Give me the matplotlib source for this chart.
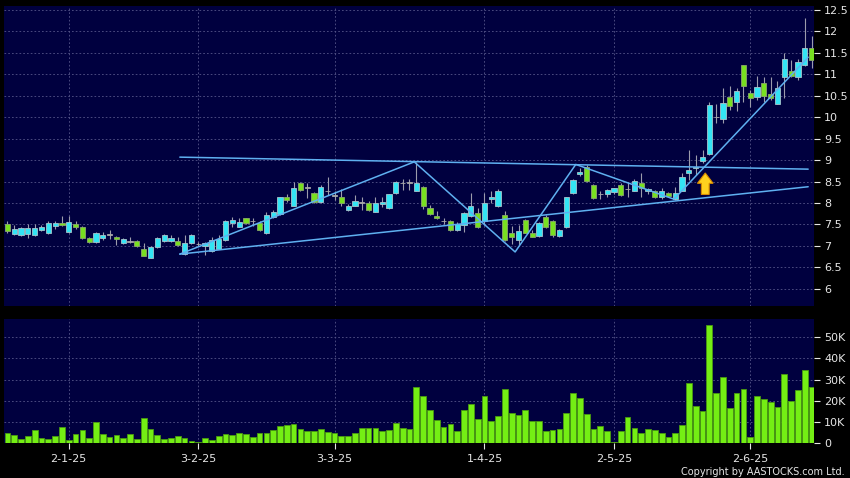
import numpy as np
import matplotlib
matplotlib.use("Agg")
import matplotlib.pyplot as plt
from matplotlib.patches import FancyArrow

# ---------------- data ----------------
opens = [7.51, 7.27, 7.25, 7.27, 7.25, 7.36, 7.30, 7.46, 7.53, 7.32,
         7.52, 7.44, 7.18, 7.09, 7.18, 7.26, 7.21, 7.07, 7.10, 7.11,
         6.93, 6.72, 6.98, 7.11, 7.11, 7.11, 6.81, 7.06, 7.04, 7.01,
         6.89, 6.94, 7.14, 7.53, 7.45, 7.64, 7.57, 7.53, 7.29, 7.68,
         7.74, 8.13, 7.94, 8.46, 8.36, 8.23, 8.03, 8.27, 8.17, 8.13,
         7.84, 7.94, 8.01, 7.99, 7.80, 7.98, 7.89, 8.23, 8.46, 8.47,
         8.29, 8.38, 7.88, 7.70, 7.57, 7.58, 7.37, 7.49, 7.70, 7.76,
         7.57, 8.09, 7.92, 7.71, 7.29, 7.14, 7.60, 7.29, 7.23, 7.68,
         7.57, 7.23, 7.43, 8.23, 8.68, 8.85, 8.42, 8.20, 8.20, 8.26,
         8.43, 8.32, 8.29, 8.47, 8.27, 8.29, 8.13, 8.23, 8.09, 8.29,
         8.69, 8.81, 8.99, 9.14, 10.00, 9.96, 10.48, 10.36, 11.22, 10.57,
         10.48, 10.79, 10.54, 10.32, 10.93, 11.08, 10.93, 11.21, 11.61]
highs = [7.59, 7.49, 7.45, 7.50, 7.50, 7.48, 7.57, 7.57, 7.70, 7.70,
         7.57, 7.47, 7.20, 7.32, 7.32, 7.36, 7.24, 7.18, 7.22, 7.14,
         7.08, 7.00, 7.22, 7.28, 7.25, 7.20, 7.26, 7.28, 7.10, 7.10,
         7.20, 7.25, 7.60, 7.68, 7.66, 7.66, 7.64, 7.57, 7.78, 7.83,
         8.15, 8.21, 8.48, 8.50, 8.46, 8.25, 8.42, 8.61, 8.27, 8.32,
         7.98, 8.19, 8.13, 8.04, 8.13, 8.13, 8.22, 8.52, 8.55, 8.56,
         8.95, 8.40, 7.95, 7.82, 7.64, 7.60, 7.55, 7.78, 8.23, 7.88,
         8.24, 8.27, 8.33, 7.81, 7.46, 7.49, 7.62, 7.36, 7.56, 7.71,
         7.60, 7.39, 8.15, 8.57, 8.81, 8.88, 8.45, 8.27, 8.33, 8.36,
         8.46, 8.48, 8.55, 8.69, 8.36, 8.31, 8.34, 8.25, 8.38, 8.71,
         9.24, 9.13, 9.24, 10.36, 10.30, 10.68, 10.73, 10.67, 11.22, 10.63,
         10.96, 10.93, 10.93, 10.85, 11.49, 11.33, 11.35, 12.31, 11.90]
lows = [7.30, 7.25, 7.24, 7.18, 7.24, 7.34, 7.28, 7.40, 7.46, 7.30,
        7.40, 7.16, 7.07, 7.07, 7.15, 7.16, 7.02, 7.05, 7.08, 6.98,
        6.76, 6.71, 6.96, 7.10, 7.10, 7.00, 6.80, 7.04, 7.00, 6.78,
        6.87, 6.93, 7.12, 7.45, 7.43, 7.50, 7.46, 7.34, 7.27, 7.65,
        7.72, 8.03, 7.92, 8.28, 8.11, 8.00, 8.00, 8.19, 8.06, 7.92,
        7.82, 7.92, 7.84, 7.82, 7.78, 7.90, 7.87, 8.21, 8.30, 8.30,
        8.27, 7.85, 7.72, 7.62, 7.51, 7.34, 7.35, 7.33, 7.68, 7.41,
        7.49, 7.99, 7.90, 7.12, 7.04, 7.02, 7.29, 7.20, 7.21, 7.41,
        7.20, 7.21, 7.41, 8.21, 8.63, 8.50, 8.09, 8.10, 8.15, 8.22,
        8.17, 8.14, 8.27, 8.15, 8.20, 8.12, 8.09, 8.15, 8.06, 8.27,
        8.54, 8.65, 8.93, 9.12, 9.86, 9.87, 10.17, 10.15, 10.36, 10.23,
        10.40, 10.36, 10.40, 10.30, 10.46, 10.94, 10.87, 11.20, 11.14]
closes = [7.34, 7.39, 7.42, 7.42, 7.42, 7.44, 7.53, 7.54, 7.49, 7.56,
          7.44, 7.18, 7.09, 7.30, 7.26, 7.26, 7.16, 7.16, 7.10, 7.00,
          6.77, 6.97, 7.19, 7.25, 7.19, 7.02, 7.08, 7.26, 7.04, 7.08,
          7.15, 7.17, 7.58, 7.60, 7.56, 7.53, 7.57, 7.36, 7.72, 7.79,
          8.13, 8.07, 8.34, 8.30, 8.36, 8.02, 8.37, 8.27, 8.17, 7.99,
          7.94, 8.05, 8.01, 7.84, 8.01, 8.02, 8.20, 8.49, 8.46, 8.47,
          8.46, 7.92, 7.74, 7.65, 7.57, 7.36, 7.51, 7.76, 7.93, 7.43,
          7.99, 8.13, 8.28, 7.15, 7.22, 7.35, 7.31, 7.22, 7.53, 7.43,
          7.26, 7.37, 8.13, 8.54, 8.73, 8.52, 8.11, 8.20, 8.30, 8.34,
          8.19, 8.32, 8.52, 8.34, 8.32, 8.15, 8.27, 8.17, 8.24, 8.61,
          8.77, 8.85, 9.07, 10.29, 10.00, 10.34, 10.26, 10.62, 10.73, 10.46,
          10.71, 10.50, 10.46, 10.67, 11.35, 10.96, 11.28, 11.61, 11.33]
volumes_k = [4.7, 4.1, 2.2, 3.3, 6.3, 2.5, 2.0, 3.6, 7.9, 1.7,
             4.3, 6.3, 2.5, 9.9, 4.3, 2.8, 3.8, 2.5, 4.4, 2.0,
             12.0, 6.6, 3.8, 2.0, 2.7, 3.3, 2.4, 1.1, 0.4, 2.5,
             1.6, 3.3, 4.4, 3.8, 4.9, 4.4, 3.1, 4.9, 4.7, 6.5,
             8.3, 8.7, 9.0, 6.8, 6.0, 6.0, 6.6, 5.2, 5.0, 3.5,
             3.6, 4.7, 7.1, 7.4, 7.2, 6.0, 6.5, 9.6, 7.2, 6.8,
             26.5, 22.2, 15.6, 10.9, 7.7, 9.0, 5.8, 15.6, 18.7, 11.5,
             22.4, 10.4, 12.9, 25.4, 14.3, 13.2, 15.9, 10.6, 10.7, 6.0,
             6.5, 6.6, 14.1, 23.6, 21.4, 13.7, 6.9, 8.2, 6.0, 0.8,
             6.0, 12.6, 7.4, 4.9, 6.8, 6.3, 4.7, 3.1, 5.0, 8.6,
             28.3, 17.6, 15.4, 55.7, 23.7, 31.4, 16.7, 23.7, 25.8, 3.1,
             22.3, 20.9, 19.5, 17.0, 32.5, 19.8, 25.0, 34.6, 26.4]

date_labels = ["2-1-25", "3-2-25", "3-3-25", "1-4-25", "2-5-25", "2-6-25"]
date_index = [9, 28, 48, 70, 89, 109]

price_ticks = [6, 6.5, 7, 7.5, 8, 8.5, 9, 9.5, 10, 10.5, 11, 11.5, 12, 12.5]
vol_ticks = [0, 10, 20, 30, 40, 50]
vol_labels = ["0", "10K", "20K", "30K", "40K", "50K"]

# trend lines drawn on the chart (bar index, price)
resist_x = [25.3, 117.5]
resist_y = [9.07, 8.79]
support_x = [25.3, 117.5]
support_y = [6.81, 8.38]
zig_x = [25.3, 59.7, 74.5, 83.4, 97.8, 117.5]
zig_y = [6.81, 8.96, 6.86, 8.90, 8.09, 11.40]
arrow_x, arrow_base, arrow_tip = 102.4, 8.20, 8.70

# ---------------- style ----------------
BG = "#00003f"
UP = "#33e4f4"
DOWN = "#78e020"
FLAT = "#a8a8a8"
GRID = "#56568a"
TXT = "#e6e6e6"
LINE = "#5fb0f0"

plt.rcParams['font.family'] = ['DejaVu Sans']

fig = plt.figure(figsize=(8.5, 4.78), dpi=100, facecolor="black")
W, H = 850.0, 478.0
ax = fig.add_axes([4 / W, 1 - 306 / H, 810.3 / W, 300.3 / H], facecolor=BG)
axv = fig.add_axes([4 / W, 1 - 443.3 / H, 810.3 / W, 124.3 / H], facecolor=BG)

o = np.array(opens); c = np.array(closes); hi = np.array(highs); lo = np.array(lows)
x = np.arange(len(o))
cols, edges = [], []
for oo, cc in zip(o, c):
    if cc > oo:
        cols.append(UP); edges.append("#a6c4cc")
    elif cc < oo:
        cols.append(DOWN); edges.append("#8aa86a")
    else:
        cols.append(FLAT); edges.append(FLAT)

ax.vlines(x, lo, hi, color="#9c9cac", lw=0.8, zorder=3)
body_h = np.maximum(np.abs(c - o), 0.012)
ax.bar(x, body_h, bottom=np.minimum(o, c), width=0.76, color=cols,
       edgecolor=edges, linewidth=0.6, zorder=4)

# trend lines
for xs, ys in [(resist_x, resist_y), (support_x, support_y), (zig_x, zig_y)]:
    ax.plot(xs, ys, color=LINE, lw=1.1, zorder=5, solid_capstyle="round")

arr = FancyArrow(arrow_x, arrow_base, 0, arrow_tip - arrow_base, width=1.15,
                 head_width=2.3, head_length=0.24, length_includes_head=True,
                 facecolor="#ffd21e", edgecolor="#d88a00", linewidth=0.8, zorder=6)
ax.add_patch(arr)

ax.set_xlim(-0.5, 118.4)
ax.set_ylim(5.60, 12.60)
ax.set_yticks(price_ticks)
ax.set_yticklabels(["%g" % t for t in price_ticks])
ax.set_xticks(date_index)
ax.set_xticklabels([])
ax.yaxis.tick_right()
ax.tick_params(axis="y", colors=TXT, length=4, width=0.8, pad=3, labelsize=8)
ax.tick_params(axis="x", length=0)
ax.grid(True, color=GRID, ls=(0, (2, 2.5)), lw=0.6, zorder=1)

# volume
axv.bar(x, volumes_k, width=0.84, color="#74ee14", edgecolor="#4a9a10",
        linewidth=0.6, zorder=3)
axv.set_xlim(-0.5, 118.4)
axv.set_ylim(0, 58.6)
axv.set_yticks(vol_ticks)
axv.set_yticklabels(vol_labels)
axv.yaxis.tick_right()
axv.set_xticks(date_index)
axv.set_xticklabels(date_labels)
axv.tick_params(axis="y", colors=TXT, length=4, width=0.8, pad=3, labelsize=8)
axv.tick_params(axis="x", colors=TXT, length=4, width=0.8, pad=4, labelsize=8)
axv.grid(True, color=GRID, ls=(0, (2, 2.5)), lw=0.6, zorder=1)

for a in (ax, axv):
    for s in a.spines.values():
        s.set_visible(False)

fig.text(845 / W, 1 - 477 / H, "Copyright by AASTOCKS.com Ltd.", color=TXT,
         fontsize=7, ha="right", va="bottom")

fig.savefig("out.png", dpi=100, facecolor="black")
